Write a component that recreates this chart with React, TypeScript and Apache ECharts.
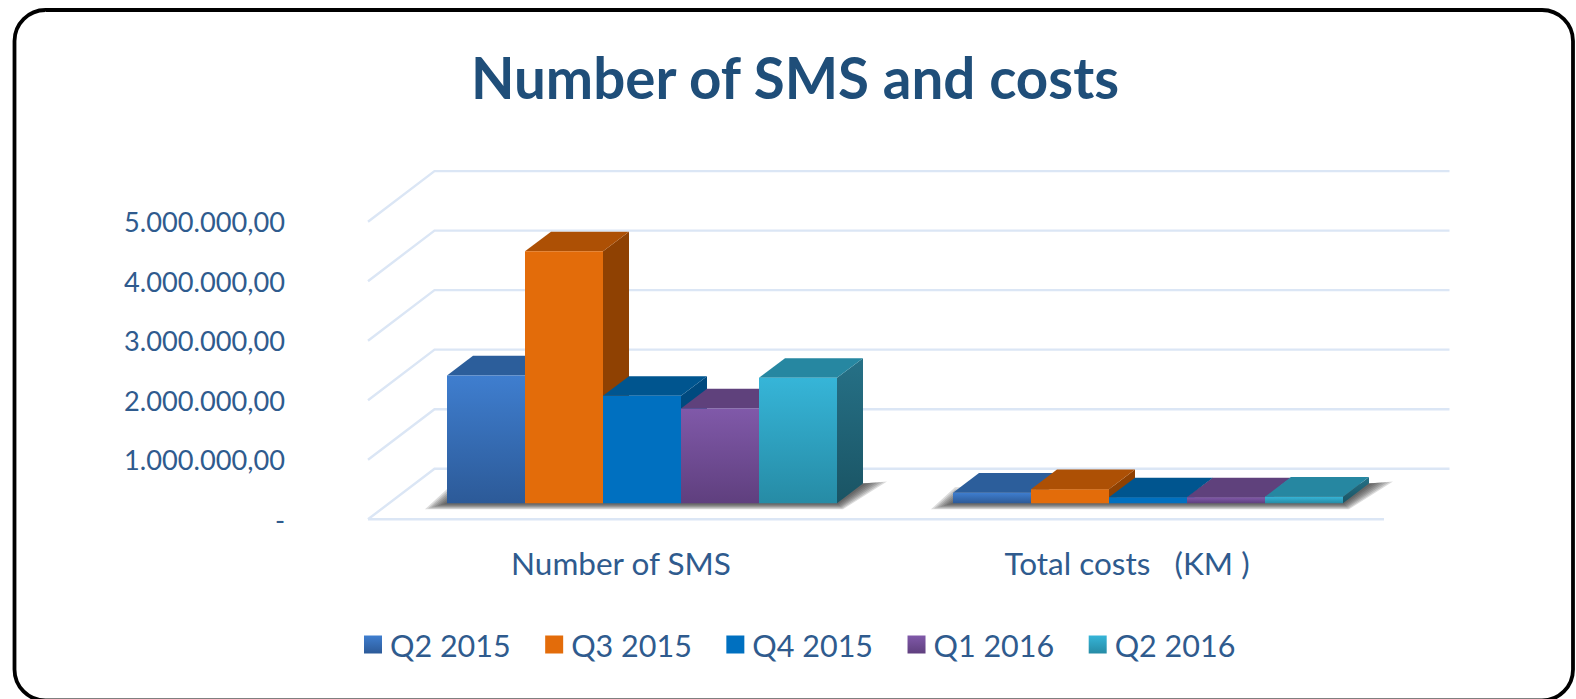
import React, { useEffect, useRef } from "react";
import * as echarts from "echarts";

const categories = ["Number of SMS", "Total costs   (KM )"];
const quarters = ["Q2 2015", "Q3 2015", "Q4 2015", "Q1 2016", "Q2 2016"];
const q2y2015 = [2148000, 178000];
const q3y2015 = [4233000, 235000];
const q4y2015 = [1805000, 100000];
const q1y2016 = [1594000, 100000];
const q2y2016 = [2108000, 110000];
const tickValues = [0, 1000000, 2000000, 3000000, 4000000, 5000000];
const tickLabels = ["-", "1.000.000,00", "2.000.000,00", "3.000.000,00", "4.000.000,00", "5.000.000,00"];
const seriesValues = [q2y2015, q3y2015, q4y2015, q1y2016, q2y2016];

const grad = (a: string, b: string) =>
  new echarts.graphic.LinearGradient(0, 0, 0, 1, [
    { offset: 0, color: a },
    { offset: 1, color: b },
  ]);

const faces = [
  { front: ["#3f7ecf", "#2c5a98"], top: "#2c5e9b", side: ["#25507f", "#1f4570"] },
  { front: ["#e36c0a", "#e36c0a"], top: "#ad5005", side: ["#8f4102", "#8f4102"] },
  { front: ["#0070c0", "#0070c0"], top: "#00558f", side: ["#004a7f", "#004a7f"] },
  { front: ["#8059a9", "#5f3f7e"], top: "#5f417c", side: ["#4f3668", "#4f3668"] },
  { front: ["#36b5d8", "#268ba5"], top: "#2687a1", side: ["#267187", "#1a5464"] },
];

const TEXT = "#2f5b8e";
const FONT = "Lato, 'Noto Sans', sans-serif";
const GRID = "#dbe6f5";
const BAR_W = 78;
const PLANE_DX = 66.5;
const PLANE_DY = 50.6;
const BASE_DX = 21;
const BASE_DY = 16;
const DEPTH_DX = 26;
const DEPTH_DY = 19.7;
const SHADOW_LAYERS = [1, 0.86, 0.72, 0.58, 0.44, 0.3, 0.16];

export default function App() {
  const ref = useRef<HTMLDivElement>(null);
  useEffect(() => {
    document.body.style.margin = "0";
    const chart = echarts.init(ref.current!, undefined, { renderer: "svg" });

    const gridSeries = {
      type: "custom",
      name: "grid",
      silent: true,
      z: 1,
      data: tickValues.map((v) => [0, v]),
      renderItem: (_p: any, api: any) => {
        const c = api.coord([0, api.value(1)]);
        const band = api.size([1, 0])[0];
        const left = c[0] - band / 2;
        const right = left + band * 2 + 4;
        const isZero = api.value(1) === 0;
        const children: any[] = [
          {
            type: "polyline",
            shape: {
              points: [
                [left, c[1]],
                [left + PLANE_DX, c[1] - PLANE_DY],
                [right + PLANE_DX - 1, c[1] - PLANE_DY],
              ],
            },
            style: { stroke: GRID, lineWidth: 2.4, fill: null },
          },
        ];
        if (isZero) {
          children.push({
            type: "line",
            shape: { x1: left, y1: c[1], x2: right, y2: c[1] },
            style: { stroke: GRID, lineWidth: 2.4 },
          });
        }
        return { type: "group", children };
      },
    };

    const shadowSeries = {
      type: "custom",
      name: "shadow",
      silent: true,
      z: 2,
      data: categories.map((_, i) => [i, 0]),
      renderItem: (_p: any, api: any) => {
        const c = api.coord([api.value(0), 0]);
        const x0 = c[0] + BASE_DX - 2.5 * BAR_W;
        const x1 = c[0] + BASE_DX + 2.5 * BAR_W;
        const y = c[1] - BASE_DY;
        return {
          type: "group",
          children: SHADOW_LAYERS.map((t) => ({
            type: "polygon",
            shape: {
              points: [
                [x0 + 2, y - 16 * t],
                [x0 - 22 * t, y + 6 * t],
                [x1 + 6 * t, y + 6 * t],
                [x1 + DEPTH_DX + 24 * t, y - DEPTH_DY - 2 * t],
                [x1 + DEPTH_DX - 2, y - DEPTH_DY],
              ],
            },
            style: { fill: "rgba(50,50,50,0.17)" },
          })),
        };
      },
    };

    const barSeries = quarters.map((name, si) => ({
      type: "custom",
      name,
      silent: true,
      z: 3 + si,
      itemStyle: { color: grad(faces[si].front[0], faces[si].front[1]) },
      data: seriesValues[si].map((v, i) => [i, v]),
      renderItem: (_p: any, api: any) => {
        const top = api.coord([api.value(0), api.value(1)]);
        const bottom = api.coord([api.value(0), 0]);
        const x0 = top[0] + BASE_DX + (si - 2.5) * BAR_W;
        const x1 = x0 + BAR_W;
        const yT = top[1] - BASE_DY;
        const yB = bottom[1] - BASE_DY;
        const f = faces[si];
        return {
          type: "group",
          children: [
            {
              type: "polygon",
              shape: { points: [[x1, yT], [x1 + DEPTH_DX, yT - DEPTH_DY], [x1 + DEPTH_DX, yB - DEPTH_DY], [x1, yB]] },
              style: { fill: grad(f.side[0], f.side[1]) },
            },
            {
              type: "polygon",
              shape: { points: [[x0, yT], [x0 + DEPTH_DX, yT - DEPTH_DY], [x1 + DEPTH_DX, yT - DEPTH_DY], [x1, yT]] },
              style: { fill: f.top },
            },
            {
              type: "rect",
              shape: { x: x0, y: yT, width: BAR_W, height: yB - yT },
              style: { fill: grad(f.front[0], f.front[1]) },
            },
          ],
        };
      },
    }));

    chart.setOption({
      animation: false,
      backgroundColor: "#ffffff",
      title: {
        text: "Number of SMS and costs",
        left: 790,
        top: 43,
        textAlign: "center",
        textStyle: { fontFamily: FONT, fontWeight: "bold", fontSize: 56.5, color: "#1f4e79" },
      },
      grid: { left: 368, right: 196, top: 221.7, height: 297.6 },
      xAxis: {
        type: "category",
        data: categories,
        axisLine: { show: false },
        axisTick: { show: false },
        axisLabel: { margin: 28, fontFamily: FONT, fontSize: 31.5, color: TEXT, interval: 0 },
      },
      yAxis: {
        type: "value",
        min: 0,
        max: 5000000,
        interval: 1000000,
        splitLine: { show: false },
        axisLine: { show: false },
        axisTick: { show: false },
        axisLabel: {
          margin: 83,
          fontFamily: FONT,
          fontSize: 27.2,
          color: TEXT,
          formatter: (v: number) => tickLabels[tickValues.indexOf(v)],
        },
      },
      legend: {
        data: quarters,
        left: 364,
        top: 629,
        padding: 0,
        itemWidth: 18,
        itemHeight: 18,
        itemGap: 34.5,
        icon: "rect",
        selectedMode: false,
        textStyle: { fontFamily: FONT, fontSize: 30.5, color: TEXT, padding: [0, 0, 0, 3] },
      },
      graphic: [
        {
          type: "rect",
          z: 100,
          silent: true,
          shape: { x: 14.5, y: 10, width: 1558.5, height: 690.5, r: 31 },
          style: { fill: "none", stroke: "#000000", lineWidth: 3.8 },
        },
      ],
      series: [gridSeries, shadowSeries, ...barSeries],
    });
    return () => chart.dispose();
  }, []);
  return <div ref={ref} style={{ position: "fixed", left: 0, top: 0, width: 1576, height: 699 }} />;
}
